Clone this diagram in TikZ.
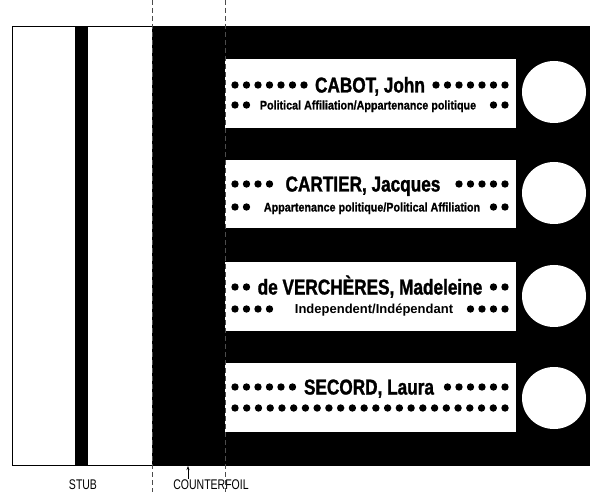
\documentclass[tikz,border=0pt]{standalone}
\usepackage{fontspec}
\setmainfont{Liberation Sans}
\newfontfamily\namefont[FakeStretch=0.8,FakeBold=1.3]{Liberation Sans Bold}
\newfontfamily\afffont[FakeStretch=0.86,FakeBold=0.8]{Liberation Sans Bold}
\newfontfamily\labfont[FakeStretch=0.75]{Liberation Sans}
\usetikzlibrary{arrows.meta}
\newcommand\dotrow[3]{%
  \foreach \i in {1,...,#2}{\fill ({235+(\i-1)*11.5},#1) circle (3.7);}%
  \foreach \i in {1,...,#3}{\fill ({505-(\i-1)*11.5},#1) circle (3.7);}}
\begin{document}
\begin{tikzpicture}[x=1pt,y=-1pt,
  namestyle/.style={anchor=base,inner sep=0pt,font=\namefont\fontsize{21.5}{21.5}\selectfont},
  affstyle/.style={anchor=base,inner sep=0pt,font=\afffont\fontsize{12.5}{12.5}\selectfont},
  indstyle/.style={anchor=base,inner sep=0pt,font=\bfseries\fontsize{13}{13}\selectfont},
  labstyle/.style={anchor=base,inner sep=0pt,font=\labfont\fontsize{14}{14}\selectfont},
  panel/.style={fill=white},
  hole/.style={fill=white},
  cutline/.style={draw=black!70,dashed,dash pattern=on 5pt off 3pt,line width=0.7pt}]
\useasboundingbox (0,0) rectangle (590,492);
% stub
\draw[fill=white,line width=0.8pt] (590,26) -- (12,26) -- (12,465) -- (590,465);
\fill (75,26) rectangle (88,465);
% counterfoil and ballot
\fill (152,26) rectangle (590,465);
% panels
\fill[panel] (225,59) rectangle (516,128);
\fill[panel] (225,160) rectangle (516,228);
\fill[panel] (225,262) rectangle (516,331);
\fill[panel] (225,363) rectangle (516,432);
% circles
\fill[hole] (554,92) ellipse (32 and 31);
\fill[hole] (554,193) ellipse (32 and 31);
\fill[hole] (554,296) ellipse (32 and 31);
\fill[hole] (554,398) ellipse (32 and 31);
% row 1
\dotrow{85}{7}{7}
\node[namestyle] (n1) at (370,92.5) {CABOT, John};
\dotrow{105}{2}{2}
\node[affstyle] (a1) at (368,109.5) {Political Affiliation/Appartenance politique};
% row 2
\dotrow{184}{4}{5}
\node[namestyle] (n2) at (363,191.5) {CARTIER, Jacques};
\dotrow{207}{2}{2}
\node[affstyle] (a2) at (372,211.5) {Appartenance politique/Political Affiliation};
% row 3
\dotrow{287}{2}{2}
\node[namestyle] (n3) at (370,294.5) {de VERCHÈRES, Madeleine};
\dotrow{309}{4}{4}
\node[indstyle] (a3) at (374,313.5) {Independent/Indépendant};
% row 4
\dotrow{387}{6}{6}
\node[namestyle] (n4) at (369,394.5) {SECORD, Laura};
\foreach \i in {1,...,24}{\fill ({235+(\i-1)*11.74},408) circle (3.7);}
% cut lines
\draw[cutline] (152,0) -- (152,492);
\draw[cutline] (225,0) -- (225,492);
% labels
\node[labstyle] (stub) at (83,489) {STUB};
\node[labstyle] (cf) at (211,489) {COUNTERFOIL};
\coordinate (cftop) at (188,479);
\coordinate (cfedge) at (188,466);
\draw[-{Stealth[length=4pt,width=3pt]},line width=0.6pt] (cftop) -- (cfedge);
\end{tikzpicture}
\end{document}
